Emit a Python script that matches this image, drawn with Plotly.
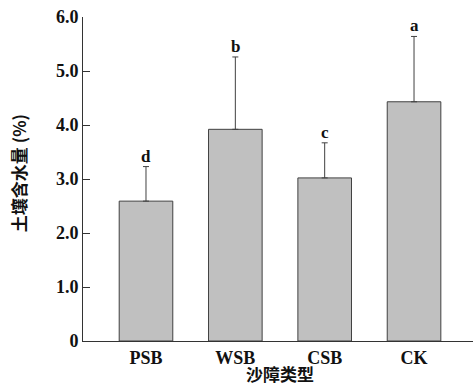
import plotly.graph_objects as go

categories = ["PSB", "WSB", "CSB", "CK"]
values = [2.59, 3.92, 3.02, 4.43]
err_upper = [3.23, 5.26, 3.67, 5.64]
letters = ["d", "b", "c", "a"]
y_ticks = [0, 1, 2, 3, 4, 5, 6]
y_tick_labels = ["0", "1.0", "2.0", "3.0", "4.0", "5.0", "6.0"]

serif = "Liberation Serif"
cjk = "Noto Sans CJK SC"

fig = go.Figure()
fig.add_trace(go.Bar(
    x=list(range(len(categories))),
    y=values,
    width=0.6,
    marker=dict(color="#c0c0c0", line=dict(color="#404040", width=1)),
    error_y=dict(type="data", symmetric=False,
                 array=[e - v for e, v in zip(err_upper, values)],
                 arrayminus=[0] * len(values),
                 color="#404040", thickness=1, width=3),
    showlegend=False,
))

for i, (e, l) in enumerate(zip(err_upper, letters)):
    fig.add_annotation(x=i, y=e, text="<b>%s</b>" % l, showarrow=False,
                       yanchor="bottom", yshift=-1,
                       font=dict(family=serif, size=17, color="#111"))

fig.update_layout(
    width=473, height=385,
    margin=dict(l=83, r=0, t=17, b=44, autoexpand=False),
    plot_bgcolor="white", paper_bgcolor="white",
    xaxis=dict(range=[-0.705, 3.66], tickmode="array",
               tickvals=list(range(len(categories))),
               ticktext=["<b>%s</b>" % c for c in categories],
               showline=True, linecolor="#333", linewidth=1,
               ticks="", showgrid=False, zeroline=False, automargin=False,
               tickfont=dict(family=serif, size=18, color="#111")),
    yaxis=dict(range=[0, 6], tickmode="array", tickvals=y_ticks,
               ticktext=["<b>%s</b>" % t for t in y_tick_labels],
               showline=True, linecolor="#333", linewidth=1,
               ticks="inside", ticklen=7, tickcolor="#333",
               showgrid=False, zeroline=False, automargin=False,
               tickfont=dict(family=serif, size=18, color="#111")),
)

fig.add_annotation(text="<b>土壤含水量 (%)</b>", xref="paper", yref="paper",
                   x=-0.165, y=0.517, xanchor="center", yanchor="middle",
                   textangle=-90, showarrow=False,
                   font=dict(family=cjk, size=17, color="#111"))
fig.add_annotation(text="<b>沙障类型</b>", xref="paper", yref="paper",
                   x=0.505, y=-0.1, xanchor="center", yanchor="middle",
                   showarrow=False,
                   font=dict(family=cjk, size=17, color="#111"))

fig.write_html("out.html", config={"displayModeBar": False},
               post_script="document.body.style.margin='0';")
